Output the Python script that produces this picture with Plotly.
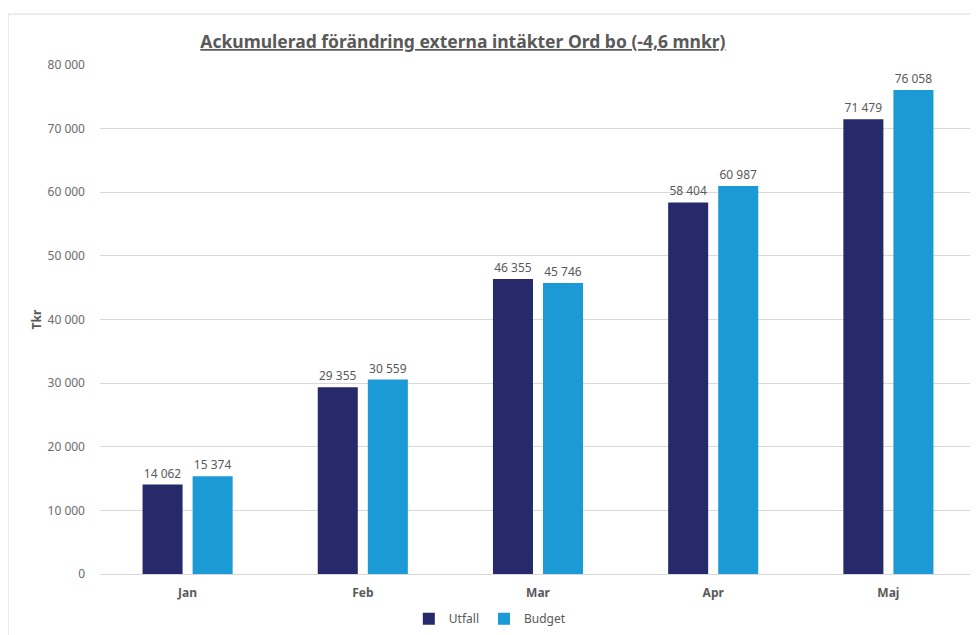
import plotly.graph_objects as go

months = ["Jan", "Feb", "Mar", "Apr", "Maj"]
utfall = [14062, 29355, 46355, 58404, 71479]
budget = [15374, 30559, 45746, 60987, 76058]

grey = "#595959"
font_family = "Noto Sans, Open Sans, sans-serif"

fig = go.Figure()
fig.add_trace(go.Bar(x=months, y=utfall, name="Utfall", marker=dict(color="#262a6b", line=dict(width=0)),
                     texttemplate="%{y:,}", textposition="outside", cliponaxis=False,
                     textfont=dict(size=12, color=grey)))
fig.add_trace(go.Bar(x=months, y=budget, name="Budget", marker=dict(color="#1c9ad6", line=dict(width=0)),
                     texttemplate="%{y:,}", textposition="outside", cliponaxis=False,
                     textfont=dict(size=12, color=grey)))

fig.update_layout(
    width=970, height=627,
    paper_bgcolor="white", plot_bgcolor="white",
    separators=", ",
    barmode="group", bargap=0.4286, bargroupgap=0.2,
    font=dict(family=font_family, color=grey, size=12),
    margin=dict(l=92, r=2, t=57, b=58),
    title=dict(text="<b><u>Ackumulerad förändring externa intäkter Ord bo (-4,6 mnkr)</u></b>",
               x=0.469, xanchor="center", y=0.946, yanchor="middle",
               font=dict(size=17.5, color=grey, family=font_family)),
    legend=dict(orientation="h", x=0.445, xanchor="center", y=-0.088, yanchor="middle",
                font=dict(size=12, color=grey), itemwidth=30, traceorder="normal"),
    xaxis=dict(showgrid=False, showline=True, linecolor="#d9d9d9", linewidth=1,
               tickfont=dict(size=12, color=grey, family=font_family), ticks="",
               ticklabelstandoff=8, tickprefix="<b>", ticksuffix="</b>"),
    yaxis=dict(range=[0, 80000], dtick=10000, tickformat=",d", showgrid=True,
               gridcolor="#d9d9d9", gridwidth=1, zeroline=False, ticks="",
               tickfont=dict(size=12, color="#6b6b6b"), ticklabelstandoff=14,
               title=dict(text="<b>Tkr</b>", font=dict(size=12, color=grey), standoff=3)),
    shapes=[dict(type="rect", xref="paper", yref="paper",
                 x0=-0.105, x1=1.02, y0=-0.16, y1=1.1,
                 line=dict(color="#d9d9d9", width=1), fillcolor="rgba(0,0,0,0)", layer="below")],
)

fig.write_html("out.html")
